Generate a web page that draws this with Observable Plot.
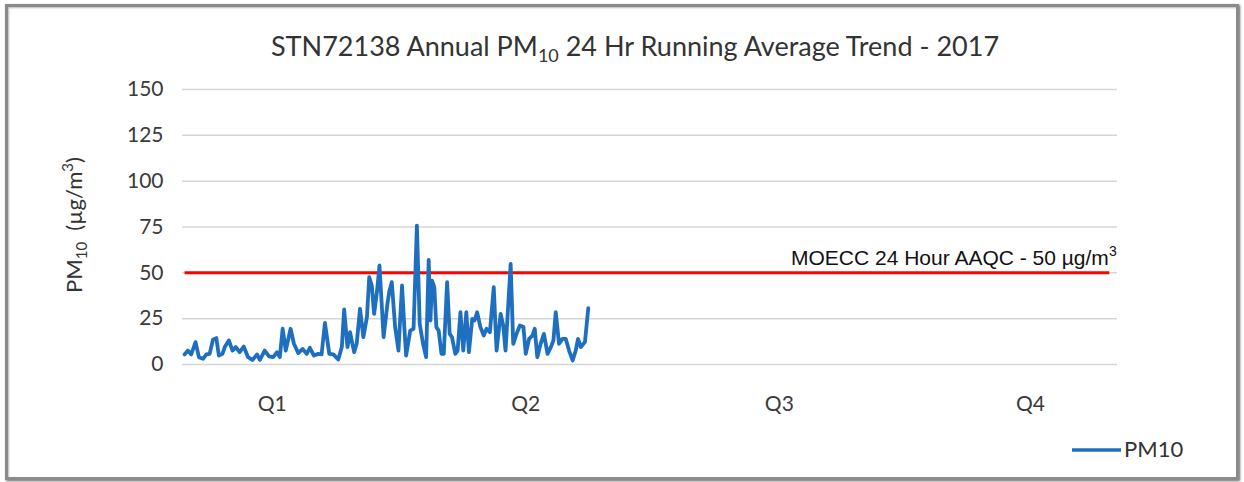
<!DOCTYPE html>
<html><head><meta charset="utf-8">
<script src="https://cdn.jsdelivr.net/npm/d3@7"></script>
<script src="https://cdn.jsdelivr.net/npm/@observablehq/plot@0.6"></script>
<style>
html,body{margin:0;padding:0;background:#fff;}
#wrap{position:relative;width:1244px;height:482px;overflow:hidden;background:#fff}
#wrap svg{position:absolute;left:0;top:0}
#frame{position:absolute;left:5px;top:4px;width:1228px;height:470px;border:3px solid #8a8a8a;box-shadow:inset 1px 1px 2px #bbb, 1px 1px 2px #666;pointer-events:none}
</style></head><body><div id="wrap"><div id="frame"></div></div>
<script>
const dayOfYear = [
  0.8,2.1,3.4,5.1,6.4,8.0,9.3,10.6,11.9,13.2,
  14.2,15.6,16.5,18.1,19.5,20.8,22.3,23.9,25.6,27.3,
  29.1,30.2,32.1,33.8,35.4,36.9,38.0,39.1,40.3,42.2,
  43.5,45.2,46.9,48.5,49.7,51.3,53.0,54.3,55.6,57.3,
  58.9,60.8,62.2,63.1,64.4,65.4,67.0,68.0,69.3,70.6,
  72.0,72.9,73.9,74.8,75.9,76.9,
  78.5,80.0,80.8,81.7,83.0,84.3,85.7,86.6,87.3,88.9,
  90.2,91.5,92.6,93.9,95.1,96.1,96.8,97.4,98.3,99.1,
  100.0,101.1,102.0,103.3,104.3,105.2,106.5,107.4,108.5,109.6,
  110.8,111.8,113.1,114.0,115.0,116.3,117.6,118.7,120.0,121.5,
  122.6,124.2,125.2,126.1,128.1,129.1,130.4,131.7,133.1,134.0,
  135.3,136.6,137.5,138.5,139.8,141.1,142.5,143.8,144.8,145.7,
  147.0,148.3,149.6,150.9,152.3,153.5,154.4,155.5,157.1,158.4
];
const pm10 = [
  5.5,7.6,5.5,12.2,4,3.1,5.5,5.8,13.5,14.4,
  4.9,5.8,9.5,13.1,7.6,9.5,6.7,9.8,4,2.5,
  5.5,2.5,7.6,4.4,4,6.7,4,19.5,7.6,19.5,
  11.3,6.2,8.5,5.8,9.1,4.9,5.8,5.5,22.7,5.8,
  5.5,2.7,9.5,30,9.5,17.6,6.7,11.3,30.4,14.9,
  25.8,47.6,43.1,27.6,39.5,54,
  14.9,33.1,40.4,44.9,20.4,7.6,43.1,20.4,4.9,18.5,
  19.5,75.8,22.2,11.3,4,57.1,24,45.8,42.2,20.4,
  18.5,5.8,5.8,44.9,16.7,14.9,5.8,7.6,28.5,7.6,
  28.5,6.7,24.9,24,28.5,20.4,15.8,19.5,17.6,42.2,
  7.6,27.6,21.3,7.6,54.9,11.3,16.7,21.3,20.4,5.8,
  14,15.8,19.5,4,11.3,16.7,5.8,9.5,13.1,28.5,
  11.3,14,14,7.6,2.2,7.6,14,9.5,12.2,30.7
];
const quarterLabels = ["Q1","Q2","Q3","Q4"];
const quarterDays = [35, 134, 233, 331];
const yTicks = [0,25,50,75,100,125,150];
const aaqcLimit = 50;
const seriesName = "PM10";

const data = dayOfYear.map((d,i) => ({day: d, pm10: pm10[i]}));

const plot = Plot.plot({
  width: 1244, height: 482,
  marginLeft: 182, marginRight: 127, marginTop: 89, marginBottom: 118,
  style: {fontFamily: "Lato", fontSize: "21px", color: "#3a3a3a", background: "transparent"},
  x: {domain: [0, 365], ticks: quarterDays, tickFormat: d => quarterLabels[quarterDays.indexOf(d)], tickSize: 0, tickPadding: 32, label: null},
  y: {domain: [0, 150], ticks: yTicks, tickSize: 0, tickPadding: 19, label: null},
  marks: [
    Plot.gridY(yTicks, {stroke: "#d6d6d6", strokeOpacity: 1, strokeWidth: 1.5}),
    Plot.ruleY([aaqcLimit], {x1: 1, x2: 362, stroke: "#ff0000", strokeWidth: 3}),
    Plot.line(data, {x: "day", y: "pm10", stroke: "#1f6fc0", strokeWidth: 3.8, strokeLinejoin: "round"})
  ]
});
document.getElementById("wrap").prepend(plot);

const svg = d3.select(plot);
const ys = plot.scale("y");

// title
const t = svg.append("text").attr("x", 635).attr("y", 56).attr("text-anchor", "middle")
  .attr("font-family", "Lato").attr("font-size", 27).attr("fill", "#333");
t.append("tspan").text("STN72138 Annual PM");
t.append("tspan").attr("font-size", 18).attr("dy", 6).text("10");
t.append("tspan").attr("dy", -6).text(" 24 Hr Running Average Trend - 2017");

// y label
const yl = svg.append("text").attr("transform", "translate(82,225) rotate(-90)").attr("text-anchor", "middle")
  .attr("font-family", "Lato").attr("font-size", 22).attr("fill", "#333");
yl.append("tspan").text("PM");
yl.append("tspan").attr("font-size", 15).attr("dy", 5).text("10");
yl.append("tspan").attr("dy", -5).text("\u00a0 (µg/m");
yl.append("tspan").attr("font-size", 15).attr("dy", -9).text("3");
yl.append("tspan").attr("dy", 9).text(")");

// AAQC annotation
const an = svg.append("text").attr("x", 791).attr("y", ys.apply(aaqcLimit) - 7).attr("text-anchor", "start")
  .attr("font-family", "Liberation Sans, Arial").attr("font-size", 21).attr("fill", "#111");
an.append("tspan").text("MOECC 24 Hour AAQC - 50 µg/m");
an.append("tspan").attr("font-size", 14).attr("dy", -9).text("3");

// legend
svg.append("line").attr("x1", 1072).attr("x2", 1121).attr("y1", 450).attr("y2", 450)
  .attr("stroke", "#1f6fc0").attr("stroke-width", 3.5);
svg.append("text").attr("x", 1124).attr("y", 457).attr("text-anchor", "start").attr("font-family", "Lato").attr("font-size", 22)
  .attr("fill", "#333").text(seriesName);
</script></body></html>
